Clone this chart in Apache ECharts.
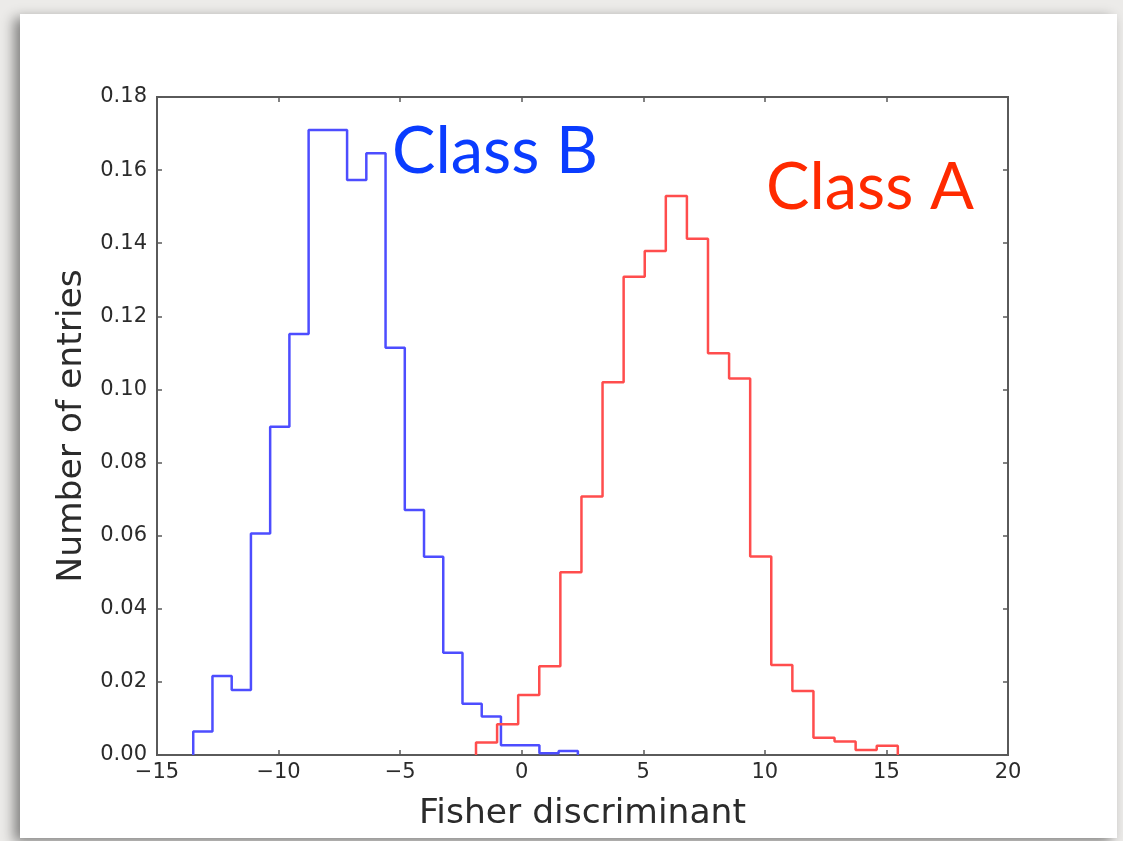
<!DOCTYPE html>
<html>
<head>
<meta charset="utf-8">
<title>Fisher discriminant</title>
<script src="https://cdn.jsdelivr.net/npm/echarts@6/dist/echarts.min.js"></script>
<style>
  html, body { margin: 0; padding: 0; width: 1123px; height: 841px; overflow: hidden; background: #ecebe9; }
  #card { position: absolute; left: 20px; top: 14px; width: 1097px; height: 824px; background: #ffffff;
          box-shadow: -6px 4px 12px rgba(0,0,0,0.45); }
  #chart { position: absolute; left: 0; top: 0; width: 1123px; height: 841px; }
</style>
</head>
<body>
<div id="card"></div>
<div id="chart"></div>
<script>
// Axis ranges
const xMin = -15, xMax = 20, xStep = 5;
const yMin = 0, yMax = 0.18, yStep = 0.02;

// Class B histogram: first bin edge, bin width, normalised bin contents
const classBStart = -13.51;
const classBWidth = 0.791;
const classB = [0.0064, 0.0216, 0.0178, 0.0606, 0.0898, 0.1152, 0.1710, 0.1710, 0.1573, 0.1646,
                0.1114, 0.0670, 0.0542, 0.0280, 0.0140, 0.0105, 0.0027, 0.0027, 0.0005, 0.0011];

// Class A histogram
const classAStart = -1.88;
const classAWidth = 0.8674;
const classA = [0.0034, 0.0084, 0.0164, 0.0243, 0.0500, 0.0707, 0.1020, 0.1308, 0.1379, 0.1529,
                0.1412, 0.1099, 0.1030, 0.0543, 0.0246, 0.0175, 0.0047, 0.0037, 0.0014, 0.0025];

const xTitle = 'Fisher discriminant';
const yTitle = 'Number of entries';

// Outline of a step histogram: up the first edge, across each bin, down the last edge
function stepOutline(start, width, values) {
  const pts = [[start, 0]];
  values.forEach((v, i) => {
    pts.push([start + i * width, v]);
    pts.push([start + (i + 1) * width, v]);
  });
  pts.push([start + values.length * width, 0]);
  return pts;
}

const tickFont = { fontFamily: 'DejaVu Sans', fontSize: 21, color: '#2b2b2b' };
const titleFont = { fontFamily: 'DejaVu Sans', fontSize: 34.5, color: '#2b2b2b' };
const frame = '#5a5a5a';
const tick = { show: true, inside: true, length: 5, lineStyle: { color: frame, width: 1.5 } };
const noLine = { show: false, onZero: false };

const chart = echarts.init(document.getElementById('chart'), null, { renderer: 'canvas' });
chart.setOption({
  animation: false,
  backgroundColor: 'transparent',
  grid: { left: 157, right: 115, top: 97, bottom: 86, show: true, borderColor: frame, borderWidth: 2, backgroundColor: 'transparent' },
  xAxis: [
    { type: 'value', min: xMin, max: xMax, interval: xStep, position: 'bottom',
      axisLine: noLine, splitLine: { show: false }, axisTick: tick,
      axisLabel: Object.assign({ margin: 7, formatter: v => v < 0 ? '\u2212' + (-v) : String(v) }, tickFont),
      name: xTitle, nameLocation: 'middle', nameGap: 42, nameTextStyle: titleFont },
    { type: 'value', min: xMin, max: xMax, interval: xStep, position: 'top',
      axisLine: noLine, splitLine: { show: false }, axisLabel: { show: false }, axisTick: tick }
  ],
  yAxis: [
    { type: 'value', min: yMin, max: yMax, interval: yStep, position: 'left',
      axisLine: noLine, splitLine: { show: false }, axisTick: tick,
      axisLabel: Object.assign({ margin: 10, formatter: v => v.toFixed(2) }, tickFont),
      name: yTitle, nameLocation: 'middle', nameGap: 60, nameRotate: 90, nameTextStyle: titleFont },
    { type: 'value', min: yMin, max: yMax, interval: yStep, position: 'right',
      axisLine: noLine, splitLine: { show: false }, axisLabel: { show: false }, axisTick: tick }
  ],
  series: [
    { name: 'Class B', type: 'line', xAxisIndex: 0, yAxisIndex: 0, showSymbol: false, symbol: 'none',
      data: stepOutline(classBStart, classBWidth, classB),
      lineStyle: { color: '#4d4dff', width: 2.5 } },
    { name: 'Class A', type: 'line', xAxisIndex: 0, yAxisIndex: 0, showSymbol: false, symbol: 'none',
      data: stepOutline(classAStart, classAWidth, classA),
      lineStyle: { color: '#ff4d4d', width: 2.5 } }
  ],
  graphic: [
    { type: 'text', left: 392, top: 120, z: 10,
      style: { text: 'Class B', font: '400 65px Lato', fill: '#0a3cff' } },
    { type: 'text', left: 766, top: 156, z: 10,
      style: { text: 'Class A', font: '400 65px Lato', fill: '#ff2a00' } }
  ]
});
</script>
</body>
</html>
